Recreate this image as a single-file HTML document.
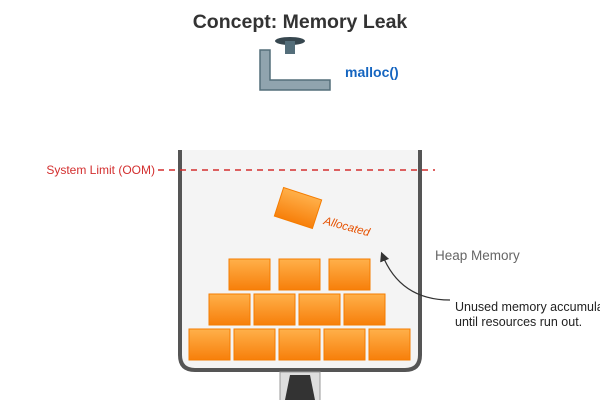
<!DOCTYPE html>
<html><head><meta charset="utf-8"><style>
body{margin:0;background:#fff;}
svg{display:block;font-family:"Liberation Sans",sans-serif;}
</style></head><body>
<svg width="600" height="400" viewBox="0 0 600 400">
<defs>
<linearGradient id="g" x1="0" y1="0" x2="0" y2="1"><stop offset="0" stop-color="#ffb04a"/><stop offset="1" stop-color="#f77f0a"/></linearGradient>
<marker id="ar" markerWidth="8" markerHeight="8" refX="6" refY="4" orient="auto"><path d="M0,0 L8,4 L0,8 z" fill="#333"/></marker>
</defs>
<text x="300" y="28" text-anchor="middle" font-size="19.5" font-weight="bold" fill="#333">Concept: Memory Leak</text>
<ellipse cx="290" cy="41" rx="15" ry="4" fill="#37474f"/>
<rect x="285" y="41" width="10" height="13" fill="#546e7a"/>
<path d="M260,50 H270 V80 H330 V90 H260 Z" fill="#90a4ae" stroke="#546e7a" stroke-width="1.5"/>
<text x="345" y="77" font-size="14" font-weight="bold" fill="#1565c0">malloc()</text>
<path d="M180,150 V355 Q180,370 195,370 H405 Q420,370 420,355 V150" fill="#f4f4f4" stroke="#555" stroke-width="4"/>
<line x1="158" y1="170" x2="435" y2="170" stroke="#d32f2f" stroke-width="1.5" stroke-dasharray="6,5"/>
<text x="155" y="174" text-anchor="end" font-size="12" fill="#d32f2f">System Limit (OOM)</text>
<g fill="url(#g)" stroke="#f57c00" stroke-width="1">
<rect x="189" y="329" width="41" height="31"/><rect x="234" y="329" width="41" height="31"/><rect x="279" y="329" width="41" height="31"/><rect x="324" y="329" width="41" height="31"/><rect x="369" y="329" width="41" height="31"/>
<rect x="209" y="294" width="41" height="31"/><rect x="254" y="294" width="41" height="31"/><rect x="299" y="294" width="41" height="31"/><rect x="344" y="294" width="41" height="31"/>
<rect x="229" y="259" width="41" height="31"/><rect x="279" y="259" width="41" height="31"/><rect x="329" y="259" width="41" height="31"/>
<rect x="278" y="193" width="40" height="30" transform="rotate(18 298 208)"/>
</g>
<text x="323" y="224" font-size="11.5" font-style="italic" fill="#e65100" transform="rotate(15 323 224)">Allocated</text>
<rect x="280" y="372" width="40" height="30" fill="#ddd" stroke="#999" stroke-width="1"/>
<path d="M290,375 H310 L315,400 H285 Z" fill="#333"/>
<text x="435" y="260" font-size="13.5" fill="#666">Heap Memory</text>
<path d="M450,300 Q400,300 382,254" fill="none" stroke="#333" stroke-width="1.2" marker-end="url(#ar)"/>
<text x="455" y="311" font-size="12.5" fill="#222">Unused memory accumulates</text>
<text x="455" y="326" font-size="12.5" fill="#222">until resources run out.</text>
</svg>
</body></html>
